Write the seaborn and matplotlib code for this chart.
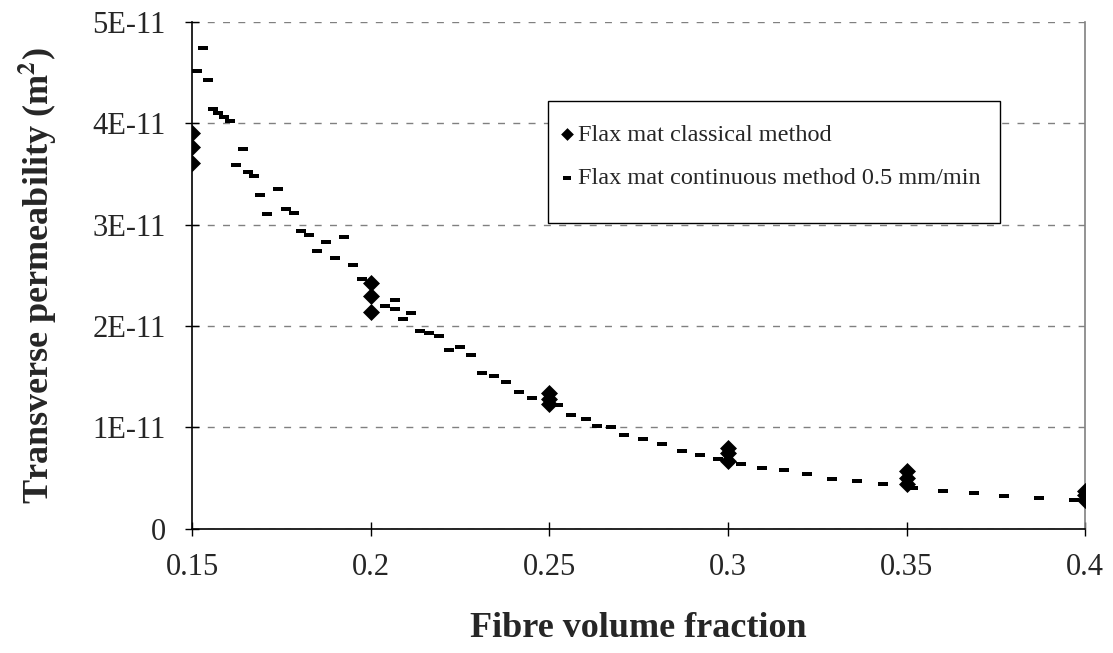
import numpy as np
import pandas as pd
import seaborn as sns
import matplotlib.pyplot as plt
from matplotlib.patches import Rectangle

# Classical method (diamonds): fibre volume fraction vs permeability (x 1E-11 m^2)
classical_vf = [0.15, 0.15, 0.15, 0.20, 0.20, 0.20, 0.25, 0.25, 0.25,
                0.30, 0.30, 0.30, 0.35, 0.35, 0.35, 0.40, 0.40, 0.40]
classical_k = [3.90, 3.76, 3.61, 2.42, 2.30, 2.14, 1.34, 1.28, 1.23,
               0.80, 0.75, 0.67, 0.57, 0.50, 0.44, 0.37, 0.33, 0.29]

# Continuous method 0.5 mm/min (dashes)
continuous_vf = [0.1514, 0.1529, 0.1543, 0.1559, 0.1573, 0.1589, 0.1606, 0.1622,
                 0.1641, 0.1656, 0.1673, 0.1689, 0.1710, 0.1740, 0.1763, 0.1786,
                 0.1805, 0.1826, 0.1849, 0.1874, 0.1900, 0.1925, 0.1950, 0.1974,
                 0.2040, 0.2067, 0.2068, 0.2089, 0.2112, 0.2138, 0.2163, 0.2190,
                 0.2219, 0.2249, 0.2281, 0.2312, 0.2346, 0.2379, 0.2415, 0.2451,
                 0.2525, 0.2561, 0.2602, 0.2633, 0.2673, 0.2710, 0.2763, 0.2815,
                 0.2871, 0.2923, 0.2973, 0.3036, 0.3095, 0.3157, 0.3221, 0.3292,
                 0.3361, 0.3434, 0.3519, 0.3602, 0.3688, 0.3774, 0.3872, 0.3970]
continuous_k = [4.51, 4.74, 4.42, 4.14, 4.10, 4.06, 4.02, 3.59,
                3.74, 3.52, 3.48, 3.29, 3.10, 3.35, 3.15, 3.11,
                2.94, 2.90, 2.74, 2.83, 2.67, 2.88, 2.60, 2.46,
                2.20, 2.26, 2.17, 2.07, 2.13, 1.95, 1.93, 1.90,
                1.76, 1.79, 1.71, 1.54, 1.51, 1.45, 1.35, 1.29,
                1.22, 1.12, 1.08, 1.01, 1.00, 0.93, 0.89, 0.84,
                0.77, 0.73, 0.69, 0.64, 0.60, 0.58, 0.54, 0.49,
                0.47, 0.44, 0.40, 0.37, 0.35, 0.32, 0.30, 0.29]

x_ticks = [0.15, 0.2, 0.25, 0.3, 0.35, 0.4]
x_tick_labels = ["0.15", "0.2", "0.25", "0.3", "0.35", "0.4"]
y_ticks = [0, 1e-11, 2e-11, 3e-11, 4e-11, 5e-11]
y_tick_labels = ["0", "1E-11", "2E-11", "3E-11", "4E-11", "5E-11"]

classical = pd.DataFrame({"vf": classical_vf, "k": np.array(classical_k) * 1e-11})
continuous = pd.DataFrame({"vf": continuous_vf, "k": np.array(continuous_k) * 1e-11})

sns.set_theme(style="white")
plt.rcParams['font.family'] = ['Liberation Serif', 'DejaVu Serif']
plt.rcParams['mathtext.fontset'] = 'stix'

fig, ax = plt.subplots(figsize=(11.13, 6.53), dpi=100)
fig.subplots_adjust(left=0.1728, right=0.9749, top=0.967, bottom=0.19)

dash = [(-1, -0.42), (1, -0.42), (1, 0.42), (-1, 0.42)]

sns.scatterplot(data=continuous, x="vf", y="k", marker=dash, s=50, color="black",
                linewidth=0, ax=ax, label="Flax mat continuous method 0.5 mm/min", zorder=3)
sns.scatterplot(data=classical, x="vf", y="k", marker="D", s=75, color="black",
                linewidth=0, ax=ax, label="Flax mat classical method", zorder=4)

ax.set_xlim(0.15, 0.4)
ax.set_ylim(0, 5e-11)
ax.set_xticks(x_ticks)
ax.set_xticklabels(x_tick_labels)
ax.set_yticks(y_ticks)
ax.set_yticklabels(y_tick_labels)
ax.tick_params(axis="both", labelsize=22, direction="inout", length=10, width=1,
               color="black")
ax.tick_params(axis="x", bottom=True, pad=12)
ax.tick_params(axis="y", left=True, pad=14)

ax.yaxis.grid(True, color="#808080", linestyle=(0, (5, 6)), linewidth=1)
ax.xaxis.grid(False)
ax.set_axisbelow(True)

for side in ["left", "bottom"]:
    ax.spines[side].set_color("black")
    ax.spines[side].set_linewidth(1.2)
ax.spines["right"].set_color("#808080")
ax.spines["right"].set_linewidth(1.2)
ax.spines["top"].set_visible(False)

ax.set_xlabel("Fibre volume fraction", fontsize=26, fontweight="bold", labelpad=22)
ax.set_ylabel("Transverse permeability (m$^\\mathbf{2}$)", fontsize=26,
              fontweight="bold", labelpad=24)

# legend box drawn separately (Excel-style padding)
ax.add_patch(Rectangle((0.3985, 0.603), 0.5063, 0.2403, transform=ax.transAxes,
                       facecolor="white", edgecolor="black", linewidth=1, zorder=5))

handles, labels = ax.get_legend_handles_labels()
leg = ax.legend(handles[::-1], labels[::-1], loc="center left",
                bbox_to_anchor=(0.413, 0.734), borderaxespad=0, borderpad=0,
                fontsize=17.5, frameon=False, handlelength=0.5, handletextpad=0.2,
                labelspacing=0.88, markerscale=0.75)
leg.set_zorder(6)

fig.savefig("out.png", dpi=100)
